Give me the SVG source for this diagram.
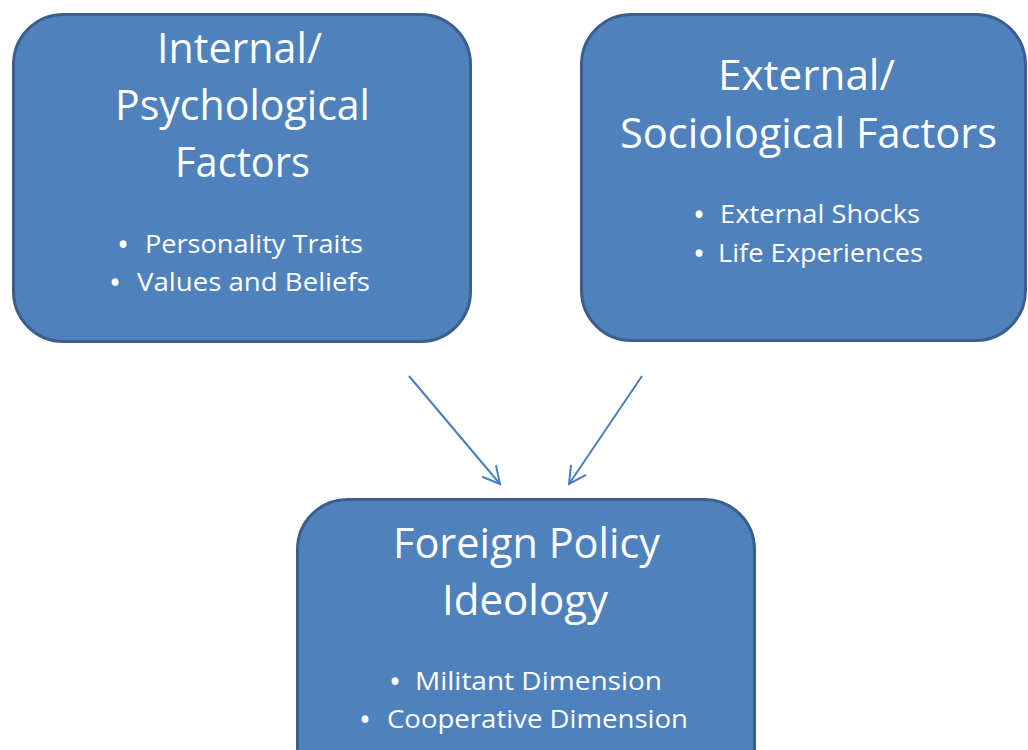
<svg xmlns="http://www.w3.org/2000/svg" width="1028" height="750" viewBox="0 0 1028 750">
<style>
.box{fill:#4F81BD;stroke:#3A5F8C;stroke-width:3}
.t{fill:#FFFFFF;font-family:"Open Sans","Liberation Sans",sans-serif;font-size:42px}
.b{fill:#FFFFFF;font-family:"Open Sans","Liberation Sans",sans-serif;font-size:25px}
.d{fill:#FFFFFF;font-family:"Open Sans","Liberation Sans",sans-serif;font-size:32px;text-anchor:middle}
.c{fill:none;stroke:#4A7EBB;stroke-width:2}
</style>
<defs>
<marker id="arr" markerUnits="userSpaceOnUse" viewBox="-22 -14 26 28" refX="0" refY="0" markerWidth="26" markerHeight="28" orient="auto">
<path d="M-17,-9 L0,0 L-17,9" fill="none" stroke="#4A7EBB" stroke-width="2"/>
</marker>
</defs>
<rect width="1028" height="750" fill="#FFFFFF"/>
<g id="internal">
<rect class="box" x="13.5" y="14.5" width="457" height="327" rx="50" ry="50"/>
<text class="t" x="157" y="63" textLength="165" lengthAdjust="spacingAndGlyphs">Internal/</text>
<text class="t" x="115" y="120" textLength="255" lengthAdjust="spacingAndGlyphs">Psychological</text>
<text class="t" x="175" y="177" textLength="135" lengthAdjust="spacingAndGlyphs">Factors</text>
<text class="d" x="123" y="256">•</text>
<text class="b" x="145" y="253" textLength="218" lengthAdjust="spacingAndGlyphs">Personality Traits</text>
<text class="d" x="115" y="294">•</text>
<text class="b" x="137" y="291" textLength="233" lengthAdjust="spacingAndGlyphs">Values and Beliefs</text>
</g>
<g id="external">
<rect class="box" x="581.5" y="14.5" width="444" height="326" rx="50" ry="50"/>
<text class="t" x="718" y="90" textLength="177" lengthAdjust="spacingAndGlyphs">External/</text>
<text class="t" x="620" y="148" textLength="377" lengthAdjust="spacingAndGlyphs">Sociological Factors</text>
<text class="d" x="699" y="226">•</text>
<text class="b" x="720" y="223" textLength="200" lengthAdjust="spacingAndGlyphs">External Shocks</text>
<text class="d" x="699" y="265">•</text>
<text class="b" x="718" y="262" textLength="205" lengthAdjust="spacingAndGlyphs">Life Experiences</text>
</g>
<g id="ideology">
<rect class="box" x="297.5" y="499.5" width="457" height="300" rx="50" ry="50"/>
<text class="t" x="393" y="558" textLength="267" lengthAdjust="spacingAndGlyphs">Foreign Policy</text>
<text class="t" x="442" y="615" textLength="166" lengthAdjust="spacingAndGlyphs">Ideology</text>
<text class="d" x="395" y="693">•</text>
<text class="b" x="415" y="690" textLength="247" lengthAdjust="spacingAndGlyphs">Militant Dimension</text>
<text class="d" x="365" y="731">•</text>
<text class="b" x="387" y="728" textLength="301" lengthAdjust="spacingAndGlyphs">Cooperative Dimension</text>
</g>
<g id="connectors">
<line class="c" x1="409" y1="376" x2="500" y2="484" marker-end="url(#arr)"/>
<line class="c" x1="642" y1="376" x2="569" y2="484" marker-end="url(#arr)"/>
</g>
</svg>
